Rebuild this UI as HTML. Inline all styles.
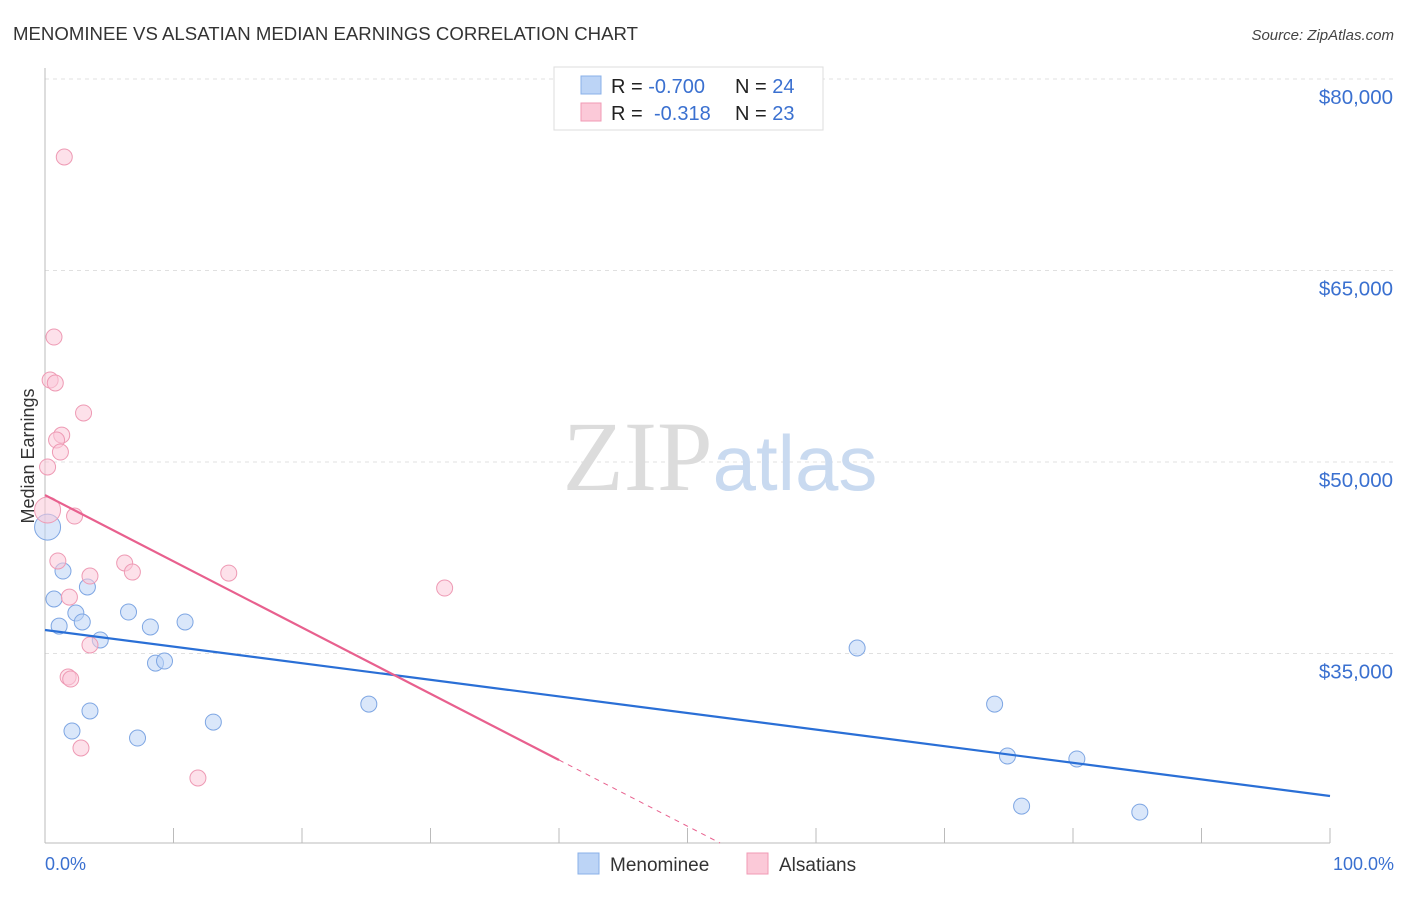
<!DOCTYPE html>
<html><head><meta charset="utf-8"><style>
body{margin:0;background:#fff;font-family:"Liberation Sans",sans-serif;}
svg text{font-family:"Liberation Sans",sans-serif;}
</style></head><body>
<svg id="chart" width="1406" height="892" xmlns="http://www.w3.org/2000/svg">
<text x="13" y="40" font-size="18.6" fill="#333" textLength="625">MENOMINEE VS ALSATIAN MEDIAN EARNINGS CORRELATION CHART</text>
<text x="1394" y="40" font-size="15" fill="#444" text-anchor="end" font-style="italic">Source: ZipAtlas.com</text>
<g id="grid"></g>
<text x="720" y="490" font-size="100" text-anchor="middle"><tspan fill="#dcdcdc" font-family="Liberation Serif">ZIP</tspan><tspan fill="#c9daf0" font-size="78">atlas</tspan></text>
<line x1="45" y1="68" x2="45" y2="843" stroke="#bbb"/>
<line x1="45" y1="843" x2="1330" y2="843" stroke="#bbb"/>
<text transform="translate(34,456) rotate(-90)" font-size="18" fill="#333" text-anchor="middle">Median Earnings</text>
<text x="45" y="870" font-size="18" fill="#3a70d0">0.0%</text>
<text x="1394" y="870" font-size="18" fill="#3a70d0" text-anchor="end">100.0%</text>
<g id="marks"></g>
<g>
<rect x="554" y="67" width="269" height="63" fill="#fff" stroke="#ddd"/>
<rect x="581" y="76" width="20" height="18" fill="#bcd4f6" stroke="#8ab0e8"/>
<rect x="581" y="103" width="20" height="18" fill="#fbc9d8" stroke="#f09ab5"/>
<text x="611" y="93" font-size="20" fill="#222">R = <tspan fill="#3a70d0">-0.700</tspan><tspan x="735">N = </tspan><tspan fill="#3a70d0">24</tspan></text>
<text x="611" y="120" font-size="20" fill="#222">R = <tspan fill="#3a70d0" x="654">-0.318</tspan><tspan x="735">N = </tspan><tspan fill="#3a70d0">23</tspan></text>
</g>
<g>
<rect x="578" y="853" width="21" height="21" fill="#bcd4f6" stroke="#8ab0e8"/>
<text x="610" y="871" font-size="19" fill="#333">Menominee</text>
<rect x="747" y="853" width="21" height="21" fill="#fbc9d8" stroke="#f09ab5"/>
<text x="779" y="871" font-size="19" fill="#333">Alsatians</text>
</g>
</svg>
<script>
const yTicks=[80000,65000,50000,35000];
const yTickLabels=["$80,000","$65,000","$50,000","$35,000"];
const xTicks=[0,10,20,30,40,50,60,70,80,90,100];
const blueX=[0.2,1.4,0.7,1.1,2.4,2.9,3.3,4.3,6.5,8.2,10.9,8.6,9.3,3.5,2.1,7.2,13.1,25.2,63.2,73.9,74.9,80.3,76.0,85.2];
const blueY=[44900,41460,39270,37150,38170,37470,40210,36060,38250,37080,37470,34250,34410,30500,28930,28380,29630,31040,35430,31040,26970,26740,23050,22580];
const pinkX=[1.5,0.7,0.4,0.8,3.0,1.3,0.9,1.2,0.2,0.2,2.3,1.0,6.2,3.5,6.8,14.3,31.1,1.9,3.5,1.8,2.0,2.8,11.9];
const pinkY=[73890,59790,56420,56190,53840,52110,51720,50780,49610,46240,45770,42250,42090,41070,41380,41300,40130,39420,35670,33160,33000,27600,25250];
const blueTrend=[36840,23840];
const pinkTrend=[47410,26660];
const pinkSolidEnd=40;
const NS="http://www.w3.org/2000/svg";
const xs=p=>45+p*12.85;
const ys=v=>79+(80000-v)*0.012767;
const grid=document.getElementById('grid'),marks=document.getElementById('marks');
function mk(tag,attrs,parent){const e=document.createElementNS(NS,tag);for(const k in attrs)e.setAttribute(k,attrs[k]);parent.appendChild(e);return e;}
yTicks.forEach((t,i)=>{
 const l=mk('line',{x1:45,x2:1394,y1:ys(t),y2:ys(t),stroke:'#e0e0e0','stroke-dasharray':'4,4'},grid);
 
 
 const tx=mk('text',{x:1393,y:ys(t)+25,'font-size':20.5,fill:'#3a70d0','text-anchor':'end'},grid);
 tx.textContent=yTickLabels[i];
 
 
});
xTicks.forEach(t=>{
 const l=mk('line',{x1:xs(t),x2:xs(t),y1:828,y2:843,stroke:'#bbb'},grid);
 
 
});
function pts(X,Y,fill,stroke,name,bigIdx){
 X.forEach((x,i)=>{
  const c=mk('circle',{cx:xs(x),cy:ys(Y[i]),r:i===bigIdx?13:8,fill:fill,'fill-opacity':0.55,stroke:stroke,'stroke-width':1},marks);
  
  
 });
}
pts(blueX,blueY,'#bcd4f6','#7ea6e3','menominee-point',0);
pts(pinkX,pinkY,'#fbc9d8','#ee9ab4','alsatian-point',9);
const bl=mk('line',{x1:xs(0),y1:ys(blueTrend[0]),x2:xs(100),y2:ys(blueTrend[1]),stroke:'#2a6fd6','stroke-width':2.2},marks);


const slope=(pinkTrend[1]-pinkTrend[0])/pinkSolidEnd;
const pl=mk('line',{x1:xs(0),y1:ys(pinkTrend[0]),x2:xs(pinkSolidEnd),y2:ys(pinkTrend[1]),stroke:'#e8608e','stroke-width':2.2},marks);


const bottomVal=80000-(843-79)/0.012767;
const xEnd=(bottomVal-pinkTrend[0])/slope;
const pd=mk('line',{x1:xs(pinkSolidEnd),y1:ys(pinkTrend[1]),x2:xs(xEnd),y2:843,stroke:'#e8608e','stroke-width':1,'stroke-dasharray':'5,5'},marks);


</script>
</body></html>
